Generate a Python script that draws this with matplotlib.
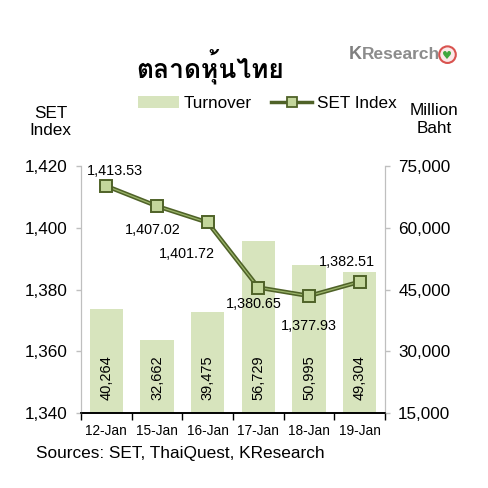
import matplotlib
matplotlib.use('Agg')
import matplotlib.pyplot as plt
from matplotlib import font_manager
from matplotlib.ft2font import FT2Font
from matplotlib.patches import Patch, Circle
from matplotlib.lines import Line2D
from matplotlib.ticker import FuncFormatter, FixedLocator

# data
dates = ['12-Jan', '15-Jan', '16-Jan', '17-Jan', '18-Jan', '19-Jan']
turnover = [40264, 32662, 39475, 56729, 50995, 49304]
set_index = [1413.53, 1407.02, 1401.72, 1380.65, 1377.93, 1382.51]
left_ticks = [1340, 1360, 1380, 1400, 1420]
right_ticks = [15000, 30000, 45000, 60000, 75000]

BAR = '#d7e4bd'
DARK = '#4f6228'
MARK = '#c3d69b'
GRAY = '#bfbfbf'


def find_thai_font():
    # first installed font that has Thai glyphs
    for f in font_manager.fontManager.ttflist:
        try:
            cmap = FT2Font(f.fname).get_charmap()
        except Exception:
            continue
        if 0x0E15 in cmap and 0x0E22 in cmap:
            return f.name
    return None


thai = find_thai_font()
plt.rcParams['font.family'] = ['Liberation Sans', 'DejaVu Sans']

fig = plt.figure(figsize=(4.88, 4.88), dpi=100)
ax = fig.add_axes([0.166, 0.1537, 0.623, 0.506])
ax2 = ax.twinx()
ax.set_zorder(ax2.get_zorder() + 1)
ax.patch.set_visible(False)

x = list(range(len(dates)))
ax2.bar(x, turnover, width=0.66, color=BAR, zorder=1)
ax2.set_ylim(15000, 75000)
ax2.yaxis.set_major_locator(FixedLocator(right_ticks))
ax2.yaxis.set_major_formatter(FuncFormatter(lambda v, p: f'{int(v):,}'))
for i, v in enumerate(turnover):
    ax2.annotate(f'{v:,}', xy=(i, 15000), xytext=(0, 9.5), textcoords='offset points',
                 rotation=90, ha='center', va='bottom', fontsize=10.5)

ax.plot(x, set_index, color=DARK, lw=3.2, zorder=3, solid_joinstyle='round')
ax.plot(x, set_index, color='#9bb56a', lw=0.9, zorder=4)
ax.plot(x, set_index, ls='none', marker='s', ms=8.5, mfc=MARK, mec=DARK, mew=1.4, zorder=5)
ax.set_ylim(1340, 1420)
ax.set_xlim(-0.5, 5.5)
ax.yaxis.set_major_locator(FixedLocator(left_ticks))
ax.yaxis.set_major_formatter(FuncFormatter(lambda v, p: f'{int(v):,}'))

# label offsets in points
offs = [(6, 11), (-3, -17), (-15, -23), (-3, -12), (0, -22), (-9, 14)]
for i, (v, o) in enumerate(zip(set_index, offs)):
    ax.annotate(f'{v:,.2f}', xy=(i, v), xytext=o, textcoords='offset points',
                ha='center', va='center', fontsize=10.4)

ax.set_xticks(x)
ax.set_xticklabels(dates, fontsize=9.8)
ax.set_xticks([i - 0.5 for i in range(7)], minor=True)
ax.tick_params(axis='x', which='major', length=0, pad=8)
ax.tick_params(axis='x', which='minor', length=5, width=1, color='black', direction='out')
ax.tick_params(axis='y', length=3.5, width=1, color=GRAY, labelsize=12.3, pad=6)
ax2.tick_params(axis='y', length=3.5, width=1, color=GRAY, labelsize=12.3, pad=6)

for a in (ax, ax2):
    a.spines['top'].set_visible(False)
    a.spines['left'].set_color(GRAY)
    a.spines['right'].set_color(GRAY)
    a.spines['bottom'].set_color('black')
    a.spines['bottom'].set_linewidth(1.2)

# titles and axis names
fig.text(0.43, 0.862, 'ตลาดหุ้นไทย', ha='center', va='center', fontsize=19,
         fontweight='bold', family=[thai, 'DejaVu Sans'] if thai else ['DejaVu Sans'])
fig.text(0.104, 0.75, 'SET\nIndex', ha='center', va='center', fontsize=12.3, linespacing=1.2)
fig.text(0.89, 0.755, 'Million\nBaht', ha='center', va='center', fontsize=12.3, linespacing=1.2)
fig.text(0.074, 0.071, 'Sources: SET, ThaiQuest, KResearch', ha='left', va='center', fontsize=12.4)

# logo
fig.text(0.715, 0.888, 'K', ha='left', va='center', fontsize=13, fontweight='bold', color='#7f7f7f')
fig.text(0.741, 0.888, 'Research', ha='left', va='center', fontsize=12.5, fontweight='bold', color='#8c8c8c')
fig.patches.append(Circle((0.917, 0.888), 0.017, transform=fig.transFigure,
                          facecolor='#fbe9e9', edgecolor='#d9534f', lw=1.5))
fig.text(0.917, 0.886, '\u2665', ha='center', va='center', fontsize=8, color='#3fa83f',
         family=['DejaVu Sans'])

# legend
handles = [Patch(facecolor=BAR, edgecolor='none'),
           Line2D([0], [0], color=DARK, lw=2.5, marker='s', ms=7.5, mfc=MARK, mec=DARK, mew=1.3)]
fig.legend(handles, ['Turnover', 'SET Index'], loc='center', bbox_to_anchor=(0.548, 0.788),
           ncol=2, frameon=False, fontsize=12.3, handlelength=2.4, handletextpad=0.3,
           columnspacing=1.1)

fig.savefig('out.png', dpi=100)
print('done')
